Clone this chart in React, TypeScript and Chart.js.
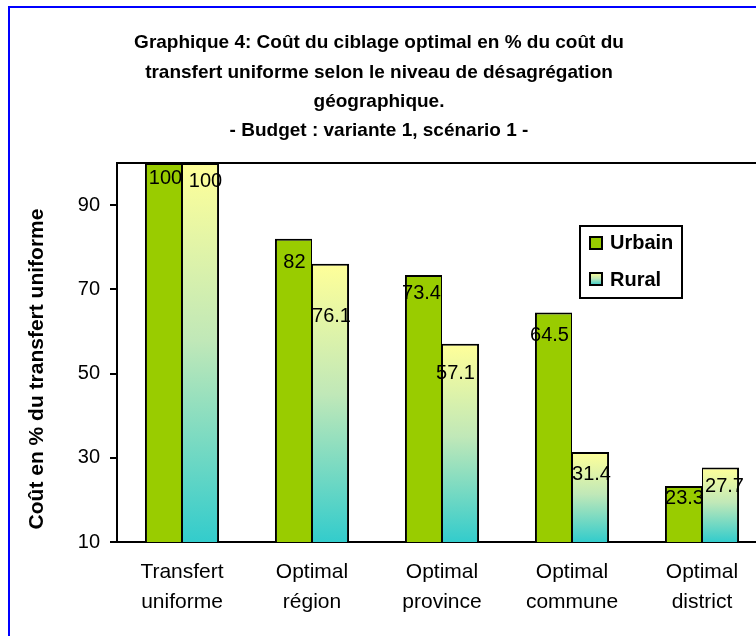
import React, { useEffect, useRef } from "react";
import { Chart, registerables } from "chart.js";

Chart.register(...registerables);

const categories: string[][] = [
  ["Transfert", "uniforme"],
  ["Optimal", "région"],
  ["Optimal", "province"],
  ["Optimal", "commune"],
  ["Optimal", "district"],
];
const urbain: number[] = [100, 82, 73.4, 64.5, 23.3];
const rural: number[] = [100, 76.1, 57.1, 31.4, 27.7];
const yTicks: number[] = [10, 30, 50, 70, 90];
const seriesNames: string[] = ["Urbain", "Rural"];
const titleLines: string[] = [
  "Graphique 4: Coût du ciblage optimal en % du coût du",
  "transfert uniforme selon le niveau de désagrégation",
  "géographique.",
  "- Budget : variante 1, scénario 1 -",
];
const yTitle = "Coût en % du transfert uniforme";

// style constants (label nudges relative to bar top)
const urbainNudge: number[][] = [[2, 15], [1, 24], [-2, 18], [-4, 23], [1, 12]];
const ruralNudge: number[][] = [[5, 18], [1, 53], [-5, 30], [1, 23], [4, 19]];

const FONT = "'Liberation Sans', Arial, sans-serif";
const GREEN = "#99CC00";
const YELLOW = "#FFFF99";
const MIDGREEN = "#C0E8B8";
const TEAL = "#33CCCC";

export default function App() {
  const ref = useRef<HTMLCanvasElement | null>(null);

  useEffect(() => {
    const canvas = ref.current;
    if (!canvas) return;

    const decor = {
      id: "decor",
      beforeDraw(chart: any) {
        const ctx = chart.ctx;
        ctx.save();
        ctx.fillStyle = "#ffffff";
        ctx.fillRect(0, 0, chart.width, chart.height);
        ctx.strokeStyle = "#0000FF";
        ctx.lineWidth = 2;
        ctx.strokeRect(9, 7, 1000, 1000);
        // title
        ctx.fillStyle = "#000";
        ctx.font = `bold 19px ${FONT}`;
        ctx.textAlign = "center";
        ctx.textBaseline = "middle";
        const ys = [43, 73, 102, 131];
        titleLines.forEach((t, i) => ctx.fillText(t, 379, ys[i]));
        // y title
        ctx.save();
        ctx.translate(37, 369);
        ctx.rotate(-Math.PI / 2);
        ctx.font = `bold 21px ${FONT}`;
        ctx.fillText(yTitle, 0, 0);
        ctx.restore();
        ctx.restore();
      },
      afterDatasetsDraw(chart: any) {
        const ctx = chart.ctx;
        const { chartArea } = chart;
        ctx.save();
        ctx.strokeStyle = "#000";
        ctx.lineWidth = 2;
        ctx.beginPath();
        ctx.moveTo(chartArea.left, chartArea.top);
        ctx.lineTo(chartArea.right, chartArea.top);
        ctx.lineTo(chartArea.right, chartArea.bottom);
        ctx.stroke();
        // data labels
        ctx.fillStyle = "#000";
        ctx.font = `20px ${FONT}`;
        ctx.textAlign = "center";
        ctx.textBaseline = "middle";
        const nudges = [urbainNudge, ruralNudge];
        chart.data.datasets.forEach((ds: any, di: number) => {
          const meta = chart.getDatasetMeta(di);
          meta.data.forEach((el: any, i: number) => {
            const n = nudges[di][i];
            ctx.fillText(String(ds.data[i]), el.x + n[0], el.y + n[1]);
          });
        });
        // legend
        ctx.fillStyle = "#fff";
        ctx.fillRect(580, 226, 102, 72);
        ctx.strokeRect(580, 226, 102, 72);
        ctx.fillStyle = GREEN;
        ctx.fillRect(590, 237, 12, 12);
        ctx.strokeRect(590, 237, 12, 12);
        const g = ctx.createLinearGradient(0, 273, 0, 285);
        g.addColorStop(0, YELLOW);
        g.addColorStop(0.47, MIDGREEN);
        g.addColorStop(1, TEAL);
        ctx.fillStyle = g;
        ctx.fillRect(590, 273, 12, 12);
        ctx.strokeRect(590, 273, 12, 12);
        ctx.fillStyle = "#000";
        ctx.font = `bold 20px ${FONT}`;
        ctx.textAlign = "left";
        ctx.fillText(seriesNames[0], 610, 243);
        ctx.fillText(seriesNames[1], 610, 280);
        ctx.restore();
      },
    };

    const ruralFill = (c: any) => {
      const chart = c.chart;
      if (!chart.chartArea || c.type !== "data" || !chart.scales.y) return YELLOW;
      const y = chart.scales.y;
      const top = y.getPixelForValue(c.raw);
      const bot = y.getPixelForValue(y.min);
      if (!isFinite(top) || !isFinite(bot) || top === bot) return YELLOW;
      const g = chart.ctx.createLinearGradient(0, top, 0, bot);
      g.addColorStop(0, YELLOW);
      g.addColorStop(0.47, MIDGREEN);
      g.addColorStop(1, TEAL);
      return g;
    };

    const chart = new Chart(canvas, {
      type: "bar",
      data: {
        labels: categories,
        datasets: [
          {
            label: seriesNames[0],
            data: urbain,
            backgroundColor: GREEN,
            borderColor: "#000",
            borderWidth: { top: 2, left: 2, right: 1, bottom: 0 },
            borderSkipped: false,
            categoryPercentage: 0.57,
            barPercentage: 1,
          },
          {
            label: seriesNames[1],
            data: rural,
            backgroundColor: ruralFill,
            borderColor: "#000",
            borderWidth: { top: 2, left: 1, right: 2, bottom: 0 },
            borderSkipped: false,
            categoryPercentage: 0.57,
            barPercentage: 1,
          },
        ],
      },
      options: {
        responsive: false,
        animation: false,
        devicePixelRatio: 1,
        layout: { padding: { left: 0, top: 163, right: 33, bottom: 0 } },
        plugins: { legend: { display: false }, title: { display: false }, tooltip: { enabled: false } },
        scales: {
          x: {
            grid: { display: false, drawTicks: false },
            border: { display: true, color: "#000", width: 2 },
            ticks: {
              color: "#000",
              padding: 15,
              maxRotation: 0,
              autoSkip: false,
              font: { family: FONT, size: 21, lineHeight: 1.45 },
            },
            afterFit(scale: any) {
              scale.height = 138;
            },
          },
          y: {
            min: 10,
            max: 100,
            grid: { drawOnChartArea: false, drawTicks: true, tickLength: 7, color: "#000", lineWidth: 2 },
            border: { display: true, color: "#000", width: 2 },
            ticks: { color: "#000", padding: 10, font: { family: FONT, size: 20 } },
            afterBuildTicks(scale: any) {
              scale.ticks = yTicks.map((v) => ({ value: v }));
            },
            afterFit(scale: any) {
              scale.width = 117;
            },
          },
        },
      },
      plugins: [decor],
    });
    return () => chart.destroy();
  }, []);

  return (
    <div style={{ position: "fixed", left: 0, top: 0, width: 756, height: 636, overflow: "hidden", background: "#fff" }}>
      <canvas ref={ref} width={800} height={680} style={{ display: "block", width: 800, height: 680 }} />
    </div>
  );
}
